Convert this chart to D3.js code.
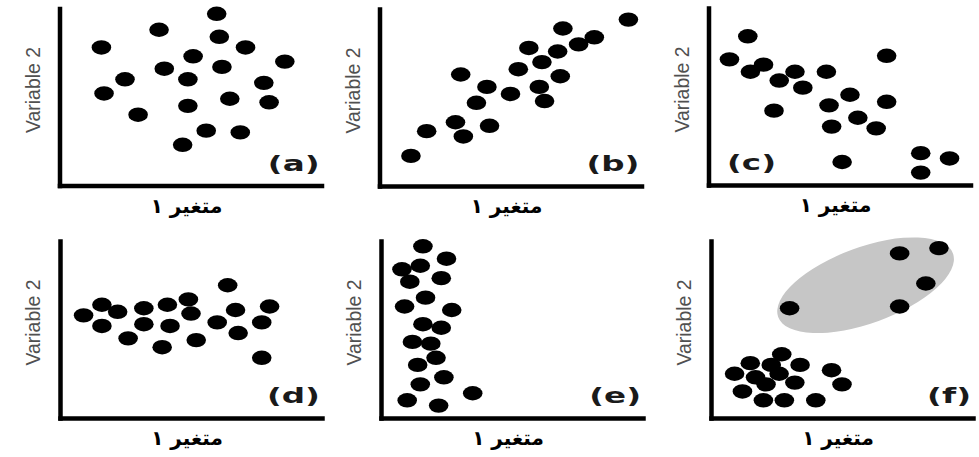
<!DOCTYPE html>
<html>
<head>
<meta charset="utf-8">
<script src="https://cdn.jsdelivr.net/npm/d3@7"></script>
<style>
body { margin: 0; background: #fff; }
</style>
</head>
<body>
<script>
/* valeurs, 0-100 sur chaque axe */

var panelLetters = ["(a)", "(b)", "(c)", "(d)", "(e)", "(f)"];
var xLabel = "متغیر ۱";
var yLabel = "Variable 2";

// (a) aucune correlation
var dotsA = [[16,78],[38,88],[60,97],[61,84],[71,78],[51,73],[86,70],[40,66],[62,67],[25,60],
	[49,60],[78,58],[17,52],[49,45],[65,49],[80,47],[30,40],[56,31],[69,30],[47,23]];
// (b) correlation positive
var dotsB = [[95,94],[70,89],[82,84],[57,78],[68,76],[76,80],[62,70],[53,66],[69,62],[31,63],
	[41,56],[50,52],[61,56],[37,47],[63,48],[29,36],[18,31],[42,34],[32,28],[12,17]];
// (c) correlation negative
var dotsC = [[15,84],[8,71],[16,64],[21,68],[27,59],[33,64],[36,55],[45,64],[68,73],[54,51],
	[46,45],[68,47],[25,42],[57,38],[47,33],[64,32],[51,13],[81,18],[92,15],[81,7]];
// (d) pas de relation
var dotsD = [[64,75],[16,64],[9,58],[22,60],[16,52],[32,62],[32,53],[26,45],[41,64],[42,52],
	[49,67],[50,59],[52,44],[39,40],[60,54],[67,61],[68,48],[80,63],[77,54],[77,34]];
// (e) variable 1 constante
var dotsE = [[16,97],[25,90],[15,86],[8,84],[23,79],[11,77],[17,68],[9,63],[27,61],[16,53],
	[23,51],[12,43],[19,42],[21,34],[14,30],[24,23],[15,19],[35,14],[10,10],[22,7]];
// (f) deux groupes
var dotsF = [[72,93],[87,96],[82,76],[72,63],[30,62],[27,36],[15,31],[23,30],[34,30],[46,27],
	[9,25],[17,23],[26,25],[32,20],[21,19],[50,19],[12,15],[20,10],[28,10],[40,10]];
// ellipse grise du panneau (f) : cx, cy, demi-axe x, demi-axe y, angle
var groupF = [59, 75, 35.5, 21.5, -20];

var allDots = [dotsA, dotsB, dotsC, dotsD, dotsE, dotsF];

/* mise en page */
var widthMax = 979;
var heightMax = 457;
var plotW = 262;
var plotH = 177;
var origins = [[59.5,185.5],[379.5,186],[708.5,185],[60,418],[381,418],[711,418]];

var svgContainer = d3.select("body").append("svg")
	.attr("width", widthMax)
	.attr("height", heightMax);

allDots.forEach(function(dots, i) {
	var ox = origins[i][0], oy = origins[i][1];
	var g = svgContainer.append("g")
		.attr("transform", "translate(" + ox + "," + (oy - plotH) + ")");

	var x = d3.scaleLinear().domain([0, 100]).range([0, plotW]);
	var y = d3.scaleLinear().domain([0, 100]).range([plotH, 0]);

	if (i == 5) {
		g.append("ellipse")
			.attr("transform", "translate(" + x(groupF[0]) + "," + y(groupF[1]) + ") rotate(" + groupF[4] + ")")
			.attr("rx", x(groupF[2]) - x(0))
			.attr("ry", y(0) - y(groupF[3]))
			.attr("fill", "#c6c6c6");
	}

	g.selectAll("ellipse.dot")
		.data(dots)
		.join("ellipse")
		.attr("class", "dot")
		.attr("cx", d => x(d[0]))
		.attr("cy", d => y(d[1]))
		.attr("rx", 9.8)
		.attr("ry", 7.2)
		.attr("fill", "#000");

	// axes sans graduations
	g.append("g")
		.attr("transform", "translate(0," + plotH + ")")
		.call(d3.axisBottom(x).tickValues([]).tickSizeOuter(0));
	g.append("g")
		.call(d3.axisLeft(y).tickValues([]).tickSizeOuter(0));
	g.selectAll(".domain")
		.attr("stroke", "#000")
		.attr("stroke-width", 4.5)
		.attr("stroke-linecap", "square");

	// lettre du panneau
	var left = (i == 2);
	g.append("text")
		.attr("transform", "translate(" + (left ? 18.5 : plotW - 2) + "," + (plotH - 15) + ") scale(1.55,1)")
		.attr("text-anchor", left ? "start" : "end")
		.attr("font-family", "DejaVu Sans")
		.attr("font-weight", "bold")
		.attr("font-size", 21)
		.attr("fill", "#1a1a1a")
		.text(panelLetters[i]);

	// titre axe x
	g.append("text")
		.attr("x", 127)
		.attr("y", plotH + 27)
		.attr("text-anchor", "middle")
		.attr("font-family", "DejaVu Sans")
		.attr("font-weight", "bold")
		.attr("font-size", 20)
		.attr("fill", "#000")
		.text(xLabel);

	// titre axe y
	g.append("text")
		.attr("transform", "translate(-27," + (plotH / 2 - 7) + ") rotate(-90) scale(1,1.4)")
		.attr("text-anchor", "middle")
		.attr("dominant-baseline", "central")
		.attr("font-family", "Liberation Sans")
		.attr("font-size", 15)
		.attr("textLength", 86)
		.attr("lengthAdjust", "spacingAndGlyphs")
		.attr("fill", "#505050")
		.text(yLabel);
});
</script>
</body>
</html>
